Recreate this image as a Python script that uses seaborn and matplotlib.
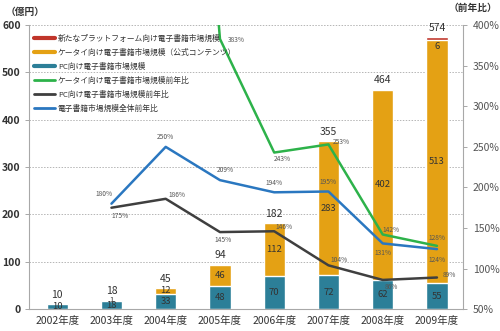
import matplotlib
matplotlib.use("Agg")
import matplotlib.pyplot as plt
from matplotlib.lines import Line2D
import seaborn as sns
import pandas as pd

years = ["2002年度", "2003年度", "2004年度", "2005年度", "2006年度", "2007年度", "2008年度", "2009年度"]
pc_market = [10, 18, 33, 48, 70, 72, 62, 55]
keitai_market = [0, 1, 12, 46, 112, 283, 402, 513]
new_platform = [0, 0, 0, 0, 0, 0, 0, 6]
total_market = [10, 18, 45, 94, 182, 355, 464, 574]

# Year-on-year growth (%), from 2003 onward
yoy_years = years[1:]
keitai_yoy = [None, 1200, 383, 243, 253, 142, 128]
pc_yoy = [175, 186, 145, 146, 104, 86, 89]
total_yoy = [180, 250, 209, 194, 195, 131, 124]

left_ticks = [0, 100, 200, 300, 400, 500, 600]
right_ticks = [50, 100, 150, 200, 250, 300, 350, 400]

C_PC = "#2C7F98"
C_KEITAI = "#E4A114"
C_NEW = "#C0352A"
C_GREEN = "#2DB24A"
C_GREY = "#3F3F3F"
C_BLUE = "#2A77C0"
C_TEXT = "#333333"
C_AXIS = "#a8a8a8"

sns.set_style("white")
plt.rcParams["font.family"] = ["Noto Sans CJK JP", "DejaVu Sans"]

fig = plt.figure(figsize=(5.0, 3.31), dpi=100)
ax = fig.add_axes([0.058, 0.066, 0.868, 0.858])

df = pd.DataFrame({
    "year": years,
    "pc": pc_market,
    "keitai_top": [p + k for p, k in zip(pc_market, keitai_market)],
    "all_top": [p + k + n for p, k, n in zip(pc_market, keitai_market, new_platform)],
})

# Stacked bars drawn by layering cumulative heights
bw = 0.39
sns.barplot(data=df, x="year", y="all_top", color=C_NEW, width=bw, saturation=1, ax=ax, order=years, zorder=2)
sns.barplot(data=df, x="year", y="keitai_top", color=C_KEITAI, width=bw, saturation=1, ax=ax, order=years, zorder=2)
sns.barplot(data=df, x="year", y="pc", color=C_PC, width=bw, saturation=1, ax=ax, order=years, zorder=2)

ax.set_xlim(-0.52, 7.48)
ax.set_ylim(0, 600)
ax.set_yticks(left_ticks)
ax.set_xlabel("")
ax.set_ylabel("")
ax.yaxis.grid(True, linestyle=(0, (1.5, 1.5)), color="#b5b5b5", linewidth=0.7)
ax.set_axisbelow(True)
for s in ["top", "right"]:
    ax.spines[s].set_visible(False)
for s in ["left", "bottom"]:
    ax.spines[s].set_color(C_AXIS)
    ax.spines[s].set_linewidth(0.8)
ax.tick_params(axis="y", labelsize=7.5, colors=C_TEXT, length=3, width=0.7, direction="out", pad=3)
ax.tick_params(axis="y", color=C_AXIS)
ax.tick_params(axis="x", which="major", length=0, labelsize=7.5, labelcolor=C_TEXT, pad=5)
ax.set_xticks([i - 0.5 for i in range(1, 8)], minor=True)
ax.tick_params(axis="x", which="minor", length=4, width=0.7, color=C_AXIS, direction="out")
for lab in ax.get_yticklabels():
    lab.set_fontweight("bold")

# Bar value labels
for i in range(len(years)):
    ax.text(i, total_market[i] + 9, str(total_market[i]), ha="center", va="bottom",
            fontsize=7.5, color=C_TEXT, zorder=5)
    small = keitai_market[i] and keitai_market[i] < 5
    ax.text(i, pc_market[i] / 2 - (1.5 if small else 0), str(pc_market[i]), ha="center",
            va="center", fontsize=6.8, color=C_TEXT, zorder=5)
    if keitai_market[i] > 0:
        ky = pc_market[i] + keitai_market[i] / 2 + (1.5 if small else 0)
        ax.text(i, ky, str(keitai_market[i]), ha="center", va="center",
                fontsize=5.5 if small else 6.8, color=C_TEXT, zorder=5)
    if new_platform[i] > 0:
        ax.text(i, pc_market[i] + keitai_market[i] - 3, str(new_platform[i]), ha="center",
                va="top", fontsize=6.8, color=C_TEXT, zorder=5)

# Growth-rate lines on the secondary axis
ax2 = ax.twinx()
ax2.set_ylim(50, 400)
ax2.set_yticks(right_ticks)
ax2.set_yticklabels([f"{t}%" for t in right_ticks], fontstyle="italic")
ax2.tick_params(axis="y", labelsize=7.5, colors="#555555", length=3, width=0.7, pad=4)
ax2.tick_params(axis="y", color=C_AXIS)
for s in ["top", "left", "bottom"]:
    ax2.spines[s].set_visible(False)
ax2.spines["right"].set_color(C_AXIS)
ax2.spines["right"].set_linewidth(0.8)

pos = [years.index(y) for y in yoy_years]
ldf = pd.DataFrame({"pos": pos, "keitai": keitai_yoy, "pc": pc_yoy, "total": total_yoy})
kdf = ldf.dropna(subset=["keitai"])
sns.lineplot(data=kdf, x="pos", y="keitai", color=C_GREEN, linewidth=1.8, ax=ax2, zorder=4)
sns.lineplot(data=ldf, x="pos", y="pc", color=C_GREY, linewidth=1.8, ax=ax2, zorder=4)
sns.lineplot(data=ldf, x="pos", y="total", color=C_BLUE, linewidth=1.8, ax=ax2, zorder=4)
ax2.set_xlim(-0.52, 7.48)
ax2.set_xlabel("")
ax2.set_ylabel("")

def pct_labels(values, offsets):
    for p, v, off in zip(pos, values, offsets):
        if v is None or v > 400 or off is None:
            continue
        ax2.annotate(f"{v:.0f}%", (p, v), xytext=off, textcoords="offset points",
                     ha="center", va="center", fontsize=4.8, fontstyle="italic",
                     color="#555555", zorder=6)

pct_labels(total_yoy, [(-5, 7), (0, 7), (4, 7), (0, 7), (0, 7), (0, -7), (0, -8)])
pct_labels(pc_yoy, [(6, -6), (8, 3), (2, -6), (7, 3), (8, 4), (6, -5), (9, 2)])
pct_labels(keitai_yoy, [None, None, (12, -1), (6, -5), (9, 2), (6, 3), (0, 6)])

# Legend
handles = [
    Line2D([], [], color=C_NEW, lw=3),
    Line2D([], [], color=C_KEITAI, lw=3),
    Line2D([], [], color=C_PC, lw=3),
    Line2D([], [], color=C_GREEN, lw=2),
    Line2D([], [], color=C_GREY, lw=2),
    Line2D([], [], color=C_BLUE, lw=2),
]
labels = [
    "新たなプラットフォーム向け電子書籍市場規模",
    "ケータイ向け電子書籍市場規模（公式コンテンツ）",
    "PC向け電子書籍市場規模",
    "ケータイ向け電子書籍市場規模前年比",
    "PC向け電子書籍市場規模前年比",
    "電子書籍市場規模全体前年比",
]
leg = ax2.legend(handles, labels, loc="upper left", bbox_to_anchor=(0.0, 0.985), frameon=False,
                 fontsize=5.6, handlelength=2.6, handletextpad=0.4, labelspacing=0.75,
                 borderaxespad=0.3)
for t in leg.get_texts():
    t.set_color(C_TEXT)

fig.text(0.012, 0.965, "（億円）", fontsize=7, fontweight="bold", color=C_TEXT, va="center", ha="left")
fig.text(0.995, 0.975, "（前年比）", fontsize=7, fontweight="bold", color=C_TEXT, va="center", ha="right")

fig.savefig("out.png", dpi=100)
